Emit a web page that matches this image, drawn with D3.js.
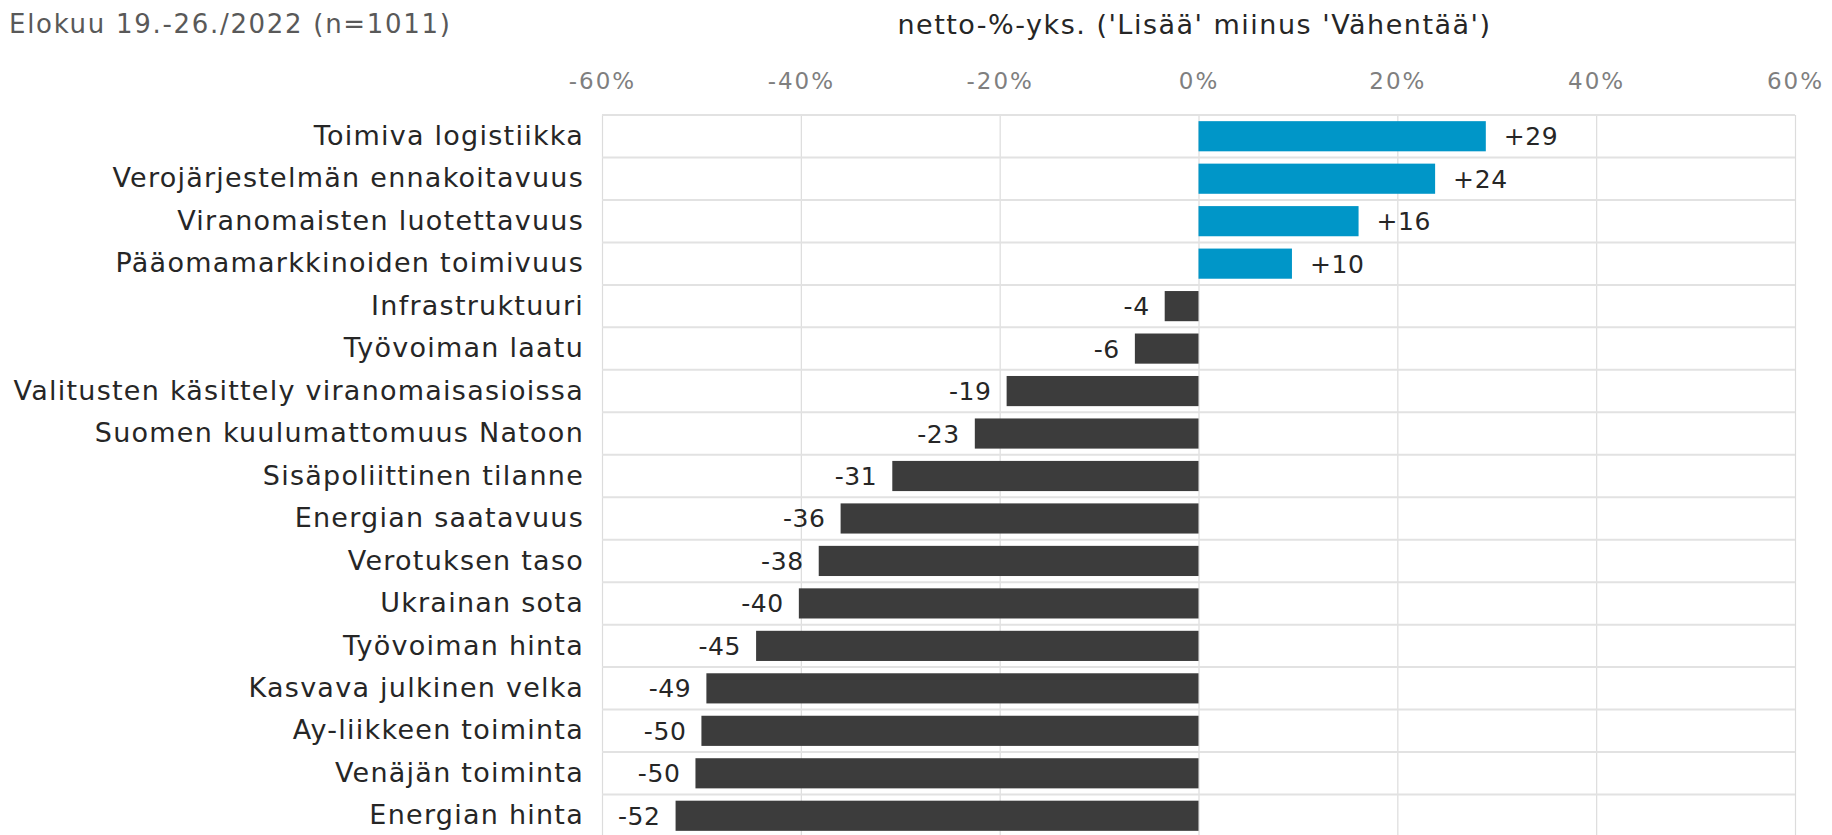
<!DOCTYPE html>
<html>
<head>
<meta charset="utf-8">
<script src="https://cdn.jsdelivr.net/npm/d3@7"></script>
<style>
  body { margin: 0; background: #fff; }
  svg text { font-family: "DejaVu Sans", Verdana, sans-serif; }
</style>
</head>
<body>
<svg id="chart"></svg>
<script>
const categories = [
  "Toimiva logistiikka",
  "Verojärjestelmän ennakoitavuus",
  "Viranomaisten luotettavuus",
  "Pääomamarkkinoiden toimivuus",
  "Infrastruktuuri",
  "Työvoiman laatu",
  "Valitusten käsittely viranomaisasioissa",
  "Suomen kuulumattomuus Natoon",
  "Sisäpoliittinen tilanne",
  "Energian saatavuus",
  "Verotuksen taso",
  "Ukrainan sota",
  "Työvoiman hinta",
  "Kasvava julkinen velka",
  "Ay-liikkeen toiminta",
  "Venäjän toiminta",
  "Energian hinta"
];
// bar lengths
const values = [28.9, 23.8, 16.1, 9.4, -3.4, -6.4, -19.3, -22.5, -30.8, -36.0, -38.2, -40.2, -44.5, -49.5, -50.0, -50.6, -52.6];
// data labels as printed on the chart
const labels = ["+29", "+24", "+16", "+10", "-4", "-6", "-19", "-23", "-31", "-36", "-38", "-40", "-45", "-49", "-50", "-50", "-52"];
const xTicks = [-60, -40, -20, 0, 20, 40, 60];
const subtitle = "Elokuu 19.-26./2022 (n=1011)";
const axisTitle = "netto-%-yks. ('Lisää' miinus 'Vähentää')";

const W = 1832, H = 835;
const plot = { left: 602, right: 1795, top: 115, bottom: 837 };

const svg = d3.select("#chart").attr("width", W).attr("height", H);

const x = d3.scaleLinear().domain([-60, 60]).range([plot.left, plot.right]);
const y = d3.scaleBand().domain(categories).range([plot.top, plot.bottom])
  .paddingInner(0.29).paddingOuter(0.145);

// vertical gridlines + tick labels
const xAxis = svg.append("g")
  .attr("transform", `translate(0,${plot.top})`)
  .call(d3.axisTop(x).tickValues(xTicks).tickSize(-(plot.bottom - plot.top))
    .tickPadding(26).tickFormat(d => d + "%"));
xAxis.select(".domain").remove();
xAxis.selectAll("line").attr("stroke", "#dcdcdc").attr("stroke-width", 1.2);
xAxis.selectAll("text").attr("fill", "#7f7f7f").attr("font-size", 23)
  .attr("letter-spacing", 2);

// horizontal row lines
const step = y.step();
svg.append("g").selectAll("line")
  .data(d3.range(categories.length + 1))
  .join("line")
  .attr("x1", plot.left).attr("x2", plot.right)
  .attr("y1", i => plot.top + i * step).attr("y2", i => plot.top + i * step)
  .attr("stroke", "#e2e2e2").attr("stroke-width", 2);

// category labels
const yAxis = svg.append("g")
  .attr("transform", `translate(${plot.left},0)`)
  .call(d3.axisLeft(y).tickSize(0).tickPadding(18));
yAxis.select(".domain").remove();
yAxis.selectAll("text").attr("fill", "#262626").attr("font-size", 27)
  .attr("letter-spacing", 1.25);

// bars
const data = categories.map((c, i) => ({ c, v: values[i], l: labels[i] }));
svg.append("g").selectAll("rect")
  .data(data)
  .join("rect")
  .attr("x", d => x(Math.min(0, d.v)))
  .attr("width", d => Math.abs(x(d.v) - x(0)))
  .attr("y", d => y(d.c))
  .attr("height", y.bandwidth())
  .attr("fill", d => d.v >= 0 ? "#0096c8" : "#3c3c3c");

// value labels
svg.append("g").selectAll("text")
  .data(data)
  .join("text")
  .attr("x", d => d.v >= 0 ? x(d.v) + 18 : x(d.v) - 15)
  .attr("y", d => y(d.c) + y.bandwidth() / 2)
  .attr("dy", "0.36em")
  .attr("text-anchor", d => d.v >= 0 ? "start" : "end")
  .attr("font-size", 25)
  .attr("letter-spacing", 0.6)
  .attr("fill", "#262626")
  .text(d => d.l);

// titles
svg.append("text")
  .attr("x", 9).attr("y", 24).attr("dy", "0.36em")
  .attr("font-size", 26).attr("letter-spacing", 1.7).attr("fill", "#595959")
  .text(subtitle);

svg.append("text")
  .attr("x", (plot.left + plot.right) / 2 - 4).attr("y", 24).attr("dy", "0.36em")
  .attr("text-anchor", "middle")
  .attr("font-size", 27).attr("letter-spacing", 1.5).attr("fill", "#262626")
  .text(axisTitle);
</script>
</body>
</html>
